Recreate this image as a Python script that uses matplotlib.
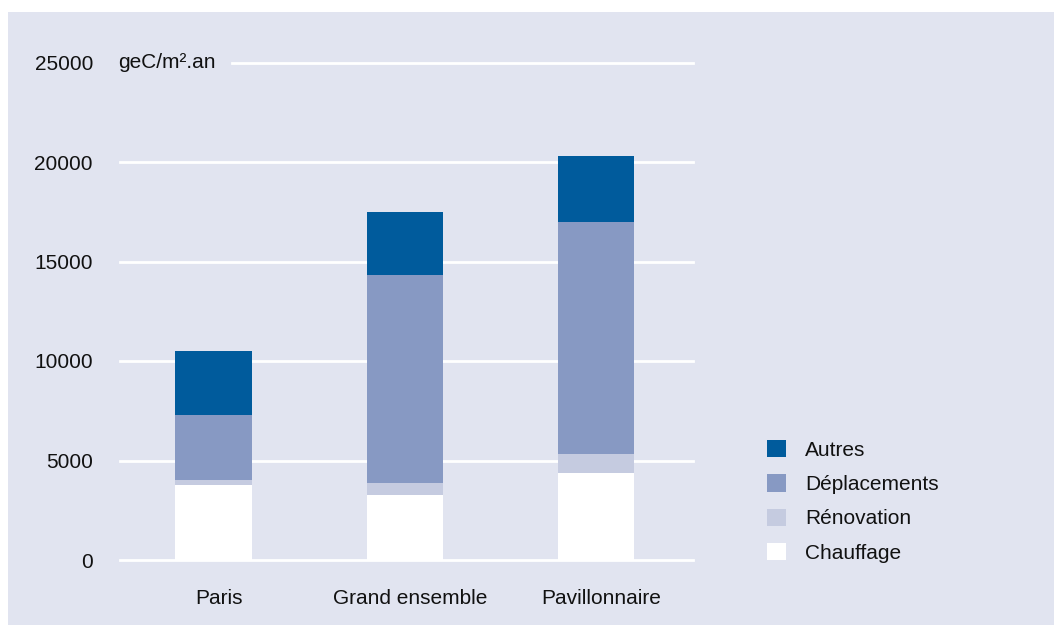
import matplotlib
matplotlib.use("Agg")
import matplotlib.pyplot as plt
import matplotlib.transforms as mtransforms
from matplotlib.patches import Rectangle, Patch
import numpy as np

categories = ["Paris", "Grand ensemble", "Pavillonnaire"]
series_names = ["Chauffage", "Rénovation", "Déplacements", "Autres"]
chauffage = [3750, 3250, 4350]
renovation = [250, 600, 1000]
deplacements = [3300, 10450, 11650]
autres = [3200, 3200, 3300]
yticks = [0, 5000, 10000, 15000, 20000, 25000]
unit_label = "geC/m².an"

colors = ["#ffffff", "#c5cbe0", "#8799c3", "#005b9c"]
bg = "#e1e4f0"

plt.rcParams['font.family'] = ['Liberation Sans', 'DejaVu Sans']

W, H = 1054, 625
FS = 15
fig = plt.figure(figsize=(W / 100, H / 100), dpi=100)
fig.patch.set_facecolor("white")
fig.patches.append(Rectangle((8 / W, 0), 1 - 8 / W, 1 - 12 / H, transform=fig.transFigure,
                             facecolor=bg, edgecolor="none", zorder=-10))

ax_left, ax_right = 120 / W, 692.7 / W
ax_bottom, ax_top = 1 - 560 / H, 1 - 62.5 / H
ax = fig.add_axes([ax_left, ax_bottom, ax_right - ax_left, ax_top - ax_bottom])
ax.set_facecolor("none")
for s in ax.spines.values():
    s.set_visible(False)

x = np.arange(len(categories))
data = [chauffage, renovation, deplacements, autres]
bottom = np.zeros(len(categories))
handles = []
for name, vals, c in zip(series_names, data, colors):
    ax.bar(x, vals, width=0.4, bottom=bottom, color=c, edgecolor="none", zorder=3)
    bottom += np.array(vals)
    handles.append(Patch(facecolor=c, edgecolor="none", label=name))

ax.set_xlim(-0.49, 2.505)
ax.set_ylim(0, 25000)

for t in yticks:
    xmin = 0.1956 if t == yticks[-1] else 0
    ax.axhline(t, xmin=xmin, xmax=1, color="white", lw=2, zorder=1, clip_on=False)

ax.set_yticks(yticks)
ax.set_yticklabels([str(t) for t in yticks])
ax.set_xticks(x)
ax.set_xticklabels(categories)
ax.tick_params(axis="both", length=0, labelsize=FS, colors="#111111")
ax.tick_params(axis="y", pad=19.5)
ax.tick_params(axis="x", pad=21)
shift = mtransforms.ScaledTranslation(5 / 100, 0, fig.dpi_scale_trans)
for lbl in ax.get_xticklabels():
    lbl.set_transform(lbl.get_transform() + shift)

ax.text(118 / W, 1 - 62.5 / H, unit_label, transform=fig.transFigure, fontsize=FS,
        va="center", ha="left", color="#111111")

leg = fig.legend(handles=handles[::-1], loc="upper left",
                 bbox_to_anchor=(767 / W, 1 - 440 / H), frameon=False,
                 fontsize=FS, handlelength=0.91, handleheight=0.91,
                 handletextpad=0.91, labelspacing=0.69, borderpad=0, borderaxespad=0)
for t in leg.get_texts():
    t.set_color("#111111")

fig.savefig("out.png", dpi=100, facecolor=fig.get_facecolor())
